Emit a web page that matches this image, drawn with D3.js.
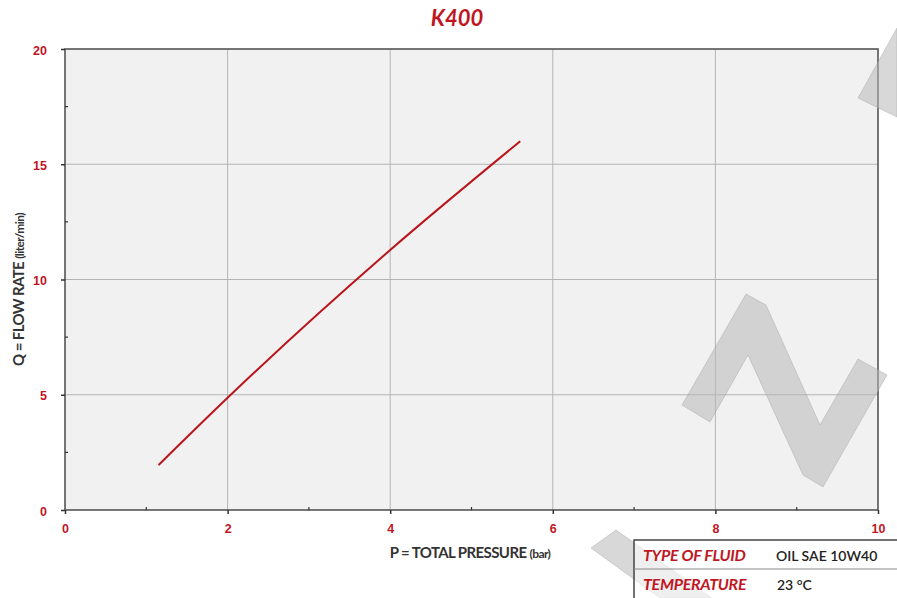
<!DOCTYPE html>
<html>
<head>
<meta charset="utf-8">
<script src="https://cdn.jsdelivr.net/npm/d3@7"></script>
<style>
  body { margin: 0; background: #fff; }
  svg { display: block; font-family: Lato, "Open Sans", sans-serif; }
</style>
</head>
<body>
<svg width="897" height="598"></svg>
<script>
// chart data
const pressure = [1.15, 2, 4, 5.6];
const flowRate = [1.95, 4.87, 11.28, 16];
const xTicks = [0, 2, 4, 6, 8, 10];
const yTicks = [0, 5, 10, 15, 20];
const xMinor = [1, 3, 5, 7, 9];
const yMinor = [2.5, 7.5, 12.5, 17.5];
const infoLabels = ["TYPE OF FLUID", "TEMPERATURE"];
const infoValues = ["OIL SAE 10W40", "23 °C"];

const RED = "#c0161f";
const svg = d3.select("svg");
const m = { left: 65, right: 19, top: 49, bottom: 88 };
const W = 897, H = 598;

const x = d3.scaleLinear().domain([0, 10]).range([m.left, W - m.right]);
const y = d3.scaleLinear().domain([0, 20]).range([H - m.bottom, m.top]);

// plot background
svg.append("rect")
  .attr("x", x(0)).attr("y", y(20))
  .attr("width", x(10) - x(0)).attr("height", y(0) - y(20))
  .attr("fill", "#f1f1f1");

// grid
svg.append("g").selectAll("line").data(xTicks.filter(d => d > 0 && d < 10)).join("line")
  .attr("x1", d => x(d)).attr("x2", d => x(d))
  .attr("y1", y(0)).attr("y2", y(20))
  .attr("stroke", "#b4b4b4").attr("stroke-width", 1);
svg.append("g").selectAll("line").data(yTicks.filter(d => d > 0 && d < 20)).join("line")
  .attr("y1", d => y(d)).attr("y2", d => y(d))
  .attr("x1", x(0)).attr("x2", x(10))
  .attr("stroke", "#b4b4b4").attr("stroke-width", 1);

// frame
svg.append("rect")
  .attr("x", x(0)).attr("y", y(20))
  .attr("width", x(10) - x(0)).attr("height", y(0) - y(20))
  .attr("fill", "none").attr("stroke", "#555").attr("stroke-width", 1.6);

// axes
const xAxis = svg.append("g").attr("transform", `translate(0,${y(0)})`)
  .call(d3.axisBottom(x).tickValues(xTicks).tickSize(4).tickPadding(10).tickFormat(d3.format("d")));
const yAxis = svg.append("g").attr("transform", `translate(${x(0)},0)`)
  .call(d3.axisLeft(y).tickValues(yTicks).tickSize(4).tickPadding(14).tickFormat(d3.format("d")));
[xAxis, yAxis].forEach(a => {
  a.select(".domain").remove();
  a.selectAll(".tick line").attr("stroke", "#333").attr("stroke-width", 1.5);
  a.selectAll(".tick text").attr("fill", RED).attr("font-size", 12.5).attr("font-weight", 700);
});
yAxis.selectAll(".tick text").attr("dy", "0.4em");

// minor ticks (inside)
svg.append("g").selectAll("line").data(xMinor).join("line")
  .attr("x1", d => x(d)).attr("x2", d => x(d))
  .attr("y1", y(0)).attr("y2", y(0) - 3)
  .attr("stroke", "#333").attr("stroke-width", 1.2);
svg.append("g").selectAll("line").data(yMinor).join("line")
  .attr("y1", d => y(d)).attr("y2", d => y(d))
  .attr("x1", x(0)).attr("x2", x(0) + 3)
  .attr("stroke", "#333").attr("stroke-width", 1.2);

// curve
svg.append("path")
  .datum(d3.zip(pressure, flowRate))
  .attr("fill", "none").attr("stroke", "#b8161c").attr("stroke-width", 2)
  .attr("d", d3.line().x(d => x(d[0])).y(d => y(d[1])).curve(d3.curveMonotoneX));

// title
svg.append("text").attr("x", 457).attr("y", 26).attr("text-anchor", "middle")
  .attr("fill", RED).attr("font-size", 22).attr("font-weight", 700).attr("font-style", "italic")
  .text("K400");

// axis titles
const xt = svg.append("text").attr("x", 470).attr("y", 558).attr("text-anchor", "middle")
  .attr("fill", "#333").attr("font-size", 15).attr("font-weight", 700).attr("letter-spacing", -0.6);
xt.append("tspan").text("P = TOTAL PRESSURE ");
xt.append("tspan").attr("font-size", 12).text("(bar)");

const yt = svg.append("text").attr("transform", `translate(24,${(y(0) + y(20)) / 2 + 10}) rotate(-90)`)
  .attr("text-anchor", "middle")
  .attr("fill", "#333").attr("font-size", 15).attr("font-weight", 700).attr("letter-spacing", -0.6);
yt.append("tspan").text("Q = FLOW RATE ");
yt.append("tspan").attr("font-size", 12).text("(liter/min)");

// watermark logo
const wm = svg.append("g").attr("fill", "#b8b8b8").attr("fill-opacity", 0.55)
  .attr("stroke", "#a0a0a0").attr("stroke-opacity", 0.4);
[
  [[682,405],[746,294],[766,305],[820,425],[858,359],[887,375],[823,487],[803,475],[748,355],[710,422]],
  [[858,98],[897,28],[897,117]],
  [[591,548],[616,530],[712,598],[660,598]]
].forEach(p => wm.append("polygon").attr("points", p.map(q => q.join(",")).join(" ")));

// info table
const tx = 634, ty = 540, rowH = 29;
svg.append("rect").attr("x", tx).attr("y", ty).attr("width", W - tx + 2).attr("height", rowH * 2 + 2)
  .attr("fill", "#fff").attr("fill-opacity", 0.6).attr("stroke", "#444").attr("stroke-width", 1.5);
svg.append("line").attr("x1", tx).attr("x2", W).attr("y1", ty + rowH).attr("y2", ty + rowH)
  .attr("stroke", "#888").attr("stroke-width", 1);
const rows = svg.append("g").selectAll("g").data(infoLabels).join("g")
  .attr("transform", (d, i) => `translate(${tx + 9},${ty + 21 + i * rowH})`);
rows.append("text").attr("fill", RED).attr("font-size", 16).attr("font-weight", 700)
  .attr("font-style", "italic").attr("letter-spacing", -0.3).text(d => d);
rows.append("text").attr("x", (d, i) => i === 0 ? 133 : 134)
  .attr("fill", "#222").attr("font-size", 14).attr("font-weight", 600)
  .text((d, i) => infoValues[i]);
</script>
</body>
</html>
